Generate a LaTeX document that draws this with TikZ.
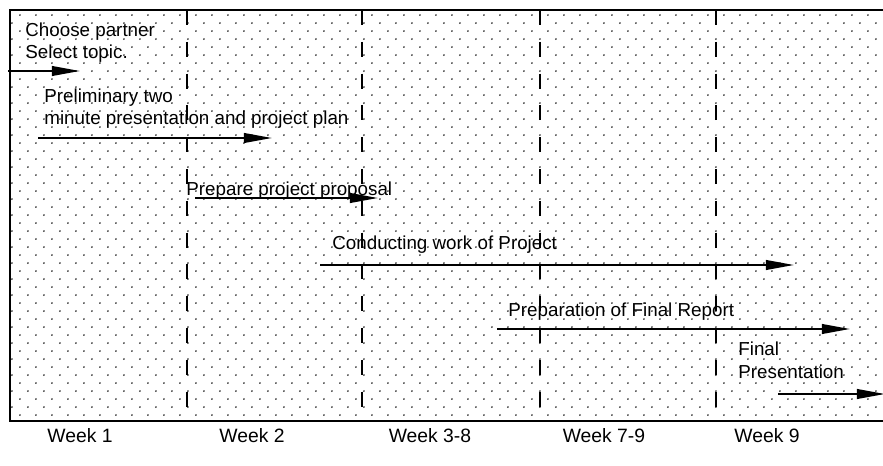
\documentclass[tikz,border=0pt]{standalone}
\usepackage{fontspec}
\setmainfont{Liberation Sans}
\usetikzlibrary{arrows.meta,patterns.meta}

\tikzdeclarepattern{
  name=stagdots, type=uncolored,
  bounding box={(0pt,0pt) and (9.07pt,9.07pt)},
  tile size={(9.07pt,9.07pt)},
  code={\fill (2.27pt,2.27pt) circle (0.55pt); \fill (6.8pt,6.8pt) circle (0.55pt);}
}

\begin{document}
\begin{tikzpicture}[
  x=0.02cm, y=-0.02cm,
  task/.style={anchor=base west, align=left, inner sep=0pt,
    font=\fontsize{10.7}{13}\selectfont},
  week/.style={anchor=base, inner sep=0pt, font=\fontsize{11}{13}\selectfont},
  bar/.style={line width=1.1pt, -{Triangle[length=16pt,width=5.5pt]}},
  divider/.style={line width=1.1pt, dash pattern=on 8.5pt off 9.6pt}
]
\useasboundingbox (0,0) rectangle (883,466);
\fill[pattern=stagdots, pattern color=black!85] (10,10) rectangle (890,421);
\draw[line width=1.1pt] (890,10) -- (10,10) -- (10,421) -- (890,421);

\foreach \x [count=\i] in {187,362,540,716} {
  \coordinate (top\i) at (\x,10);
  \coordinate (bot\i) at (\x,421);
  \draw[divider] (top\i) -- (bot\i);
}

\node[task] (partner) at (25,59) {Choose partner\\Select topic.};
\node[task] (prelim) at (44,125) {Preliminary two\\minute presentation and project plan};
\node[task] (proposal) at (186,195) {Prepare project proposal};
\node[task] (work) at (332,250) {Conducting work of Project};
\node[task] (report) at (508,316) {Preparation of Final Report};
\node[task] (final) at (738,378) {Final\\Presentation};

\coordinate (partnerS) at (8,71);    \coordinate (partnerE) at (80,71);
\coordinate (prelimS) at (38,138);   \coordinate (prelimE) at (272,138);
\coordinate (proposalS) at (195,198); \coordinate (proposalE) at (378,198);
\coordinate (workS) at (320,265);    \coordinate (workE) at (794,265);
\coordinate (reportS) at (497,329);  \coordinate (reportE) at (850,329);
\coordinate (finalS) at (778,394);   \coordinate (finalE) at (885,394);

\draw[bar] (partnerS) -- (partnerE);
\draw[bar] (prelimS) -- (prelimE);
\draw[bar] (proposalS) -- (proposalE);
\draw[bar] (workS) -- (workE);
\draw[bar] (reportS) -- (reportE);
\draw[bar] (finalS) -- (finalE);

\node[week] (w1) at (80,442) {Week 1};
\node[week] (w2) at (252,442) {Week 2};
\node[week] (w3) at (430,442) {Week 3-8};
\node[week] (w4) at (604,442) {Week 7-9};
\node[week] (w5) at (767,442) {Week 9};
\end{tikzpicture}
\end{document}
